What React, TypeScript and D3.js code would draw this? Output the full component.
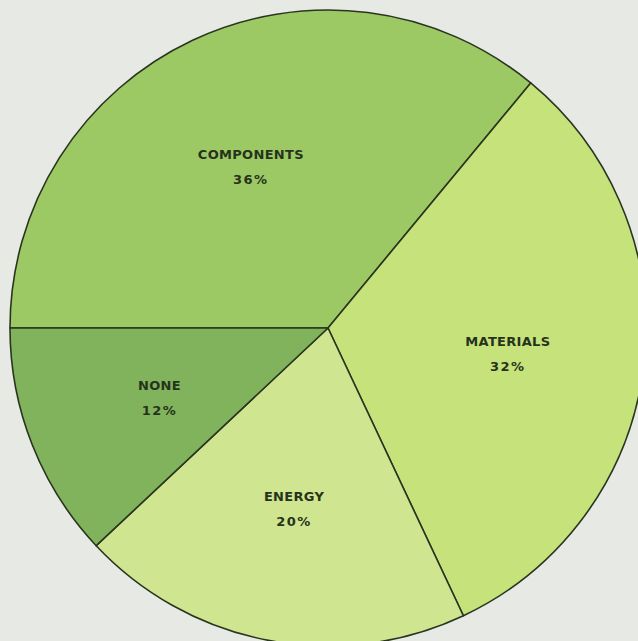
import * as d3 from 'd3';
import { useEffect, useRef } from 'react';

const categories = ['COMPONENTS', 'MATERIALS', 'ENERGY', 'NONE'];
const shares = [36, 32, 20, 12];
const sliceColors = ['#9dc964', '#c6e27a', '#cfe590', '#80b35c'];

const width = 638;
const height = 641;

const App = () => {
  const ref = useRef<SVGSVGElement | null>(null);

  useEffect(() => {
    if (!ref.current) return;
    const svg = d3.select(ref.current);
    svg.selectAll('*').remove();

    const cx = 328;
    const cy = 328;
    const radius = 318;

    svg
      .append('rect')
      .attr('width', width)
      .attr('height', height)
      .attr('fill', '#e7e9e4');

    const g = svg.append('g').attr('transform', `translate(${cx},${cy})`);

    const data = categories.map((name, i) => ({ name, value: shares[i] }));

    // start at 9 o'clock and run clockwise
    const pie = d3
      .pie<{ name: string; value: number }>()
      .value((d) => d.value)
      .sort(null)
      .startAngle(-Math.PI / 2)
      .endAngle((3 * Math.PI) / 2);

    const arcs = pie(data);

    const arc = d3
      .arc<d3.PieArcDatum<{ name: string; value: number }>>()
      .innerRadius(0)
      .outerRadius(radius);

    const labelArc = d3
      .arc<d3.PieArcDatum<{ name: string; value: number }>>()
      .innerRadius(radius * 0.57)
      .outerRadius(radius * 0.57);

    g.selectAll('path')
      .data(arcs)
      .enter()
      .append('path')
      .attr('d', arc)
      .attr('fill', (_d, i) => sliceColors[i])
      .attr('stroke', '#2a3520')
      .attr('stroke-width', 1.6)
      .attr('stroke-linejoin', 'round');

    const labels = g
      .selectAll('g.label')
      .data(arcs)
      .enter()
      .append('g')
      .attr('class', 'label')
      .attr('transform', (d) => {
        const [x, y] = labelArc.centroid(d);
        return `translate(${x},${y})`;
      })
      .attr('fill', '#26331c')
      .attr('font-family', '"DejaVu Sans", sans-serif')
      .attr('font-weight', 600)
      .attr('text-anchor', 'middle');

    labels
      .append('text')
      .attr('y', -5)
      .attr('font-size', 13)
      .attr('letter-spacing', 0.3)
      .text((d) => d.data.name);

    labels
      .append('text')
      .attr('y', 20)
      .attr('font-size', 13)
      .attr('letter-spacing', 1.5)
      .text((d) => `${d.data.value}%`);
  }, []);

  return (
    <svg
      ref={ref}
      width={width}
      height={height}
      style={{ position: 'absolute', left: 0, top: 0 }}
    />
  );
};

export default App;
